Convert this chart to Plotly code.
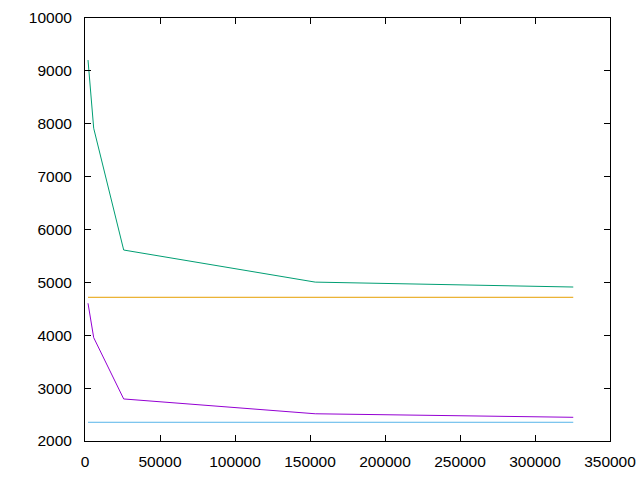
import plotly.graph_objects as go

x_vals = [2000, 5800, 25800, 153500, 325500]
purple_vals = [4605, 3955, 2795, 2515, 2448]
green_vals = [9205, 7915, 5612, 5005, 4912]
blue_level = 2354
orange_level = 4718
x_end = [2000, 325500]

fig = go.Figure()
fig.add_trace(go.Scatter(x=x_vals, y=purple_vals, mode="lines",
                         line=dict(color="#9400d3", width=1)))
fig.add_trace(go.Scatter(x=x_vals, y=green_vals, mode="lines",
                         line=dict(color="#009e73", width=1)))
fig.add_trace(go.Scatter(x=x_end, y=[blue_level, blue_level], mode="lines",
                         line=dict(color="#56b4e9", width=1)))
fig.add_trace(go.Scatter(x=x_end, y=[orange_level, orange_level], mode="lines",
                         line=dict(color="#e69f00", width=1)))

axis_common = dict(showgrid=False, zeroline=False, showline=True, mirror="ticks",
                   linecolor="black", linewidth=1, ticks="inside", ticklen=6,
                   tickcolor="black", automargin=False,
                   tickfont=dict(family="Liberation Sans, Arial", size=15.5, color="black"))

fig.update_layout(
    width=640, height=480,
    margin=dict(l=85, r=30, t=18, b=39, autoexpand=False),
    plot_bgcolor="white", paper_bgcolor="white",
    showlegend=False,
    xaxis=dict(range=[0, 350000], tickvals=[0, 50000, 100000, 150000, 200000, 250000, 300000, 350000],
               ticktext=["0", "50000", "100000", "150000", "200000", "250000", "300000", "350000"],
               ticklabelstandoff=6, **axis_common),
    yaxis=dict(range=[2000, 10000], tickvals=[2000, 3000, 4000, 5000, 6000, 7000, 8000, 9000, 10000],
               ticktext=["2000", "3000", "4000", "5000", "6000", "7000", "8000", "9000", "10000"],
               ticklabelstandoff=9, **axis_common),
)
fig.write_html("out.html", config={"displayModeBar": False},
               post_script="document.body.style.margin='0';document.body.style.padding='0';")
